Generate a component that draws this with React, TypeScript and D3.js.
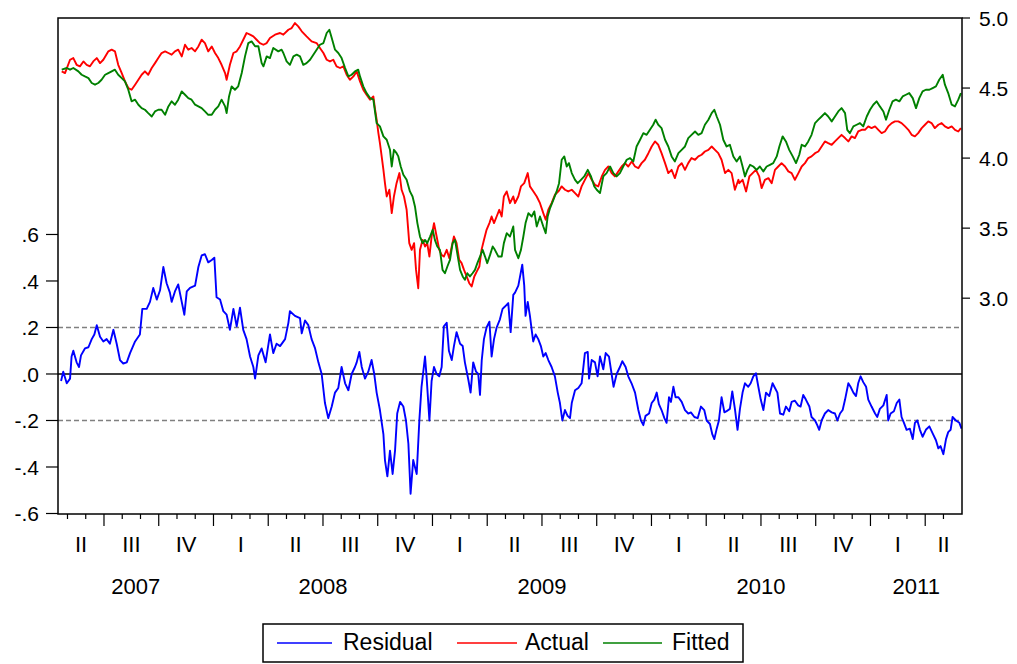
import React from "react";
import * as d3 from "d3";

// Sample span in decimal years (daily observations, mid-April 2007 to end of May 2011)
const sampleStart = 2007.29;
const sampleEnd = 2011.418;

// Residual series: [decimal year, value] (left axis)
const residual: [number, number][] = [
  [2007.304, -0.03], [2007.314, 0.01], [2007.330, -0.04], [2007.345, -0.02], [2007.352, 0.075],
  [2007.360, 0.10], [2007.375, 0.05], [2007.386, 0.03], [2007.395, 0.08], [2007.413, 0.11],
  [2007.429, 0.115], [2007.444, 0.15], [2007.456, 0.17], [2007.467, 0.21], [2007.482, 0.16],
  [2007.497, 0.14], [2007.512, 0.15], [2007.527, 0.13], [2007.543, 0.19], [2007.558, 0.13],
  [2007.573, 0.06], [2007.588, 0.045], [2007.604, 0.05], [2007.619, 0.09], [2007.642, 0.14],
  [2007.664, 0.17], [2007.675, 0.28], [2007.695, 0.28], [2007.710, 0.31], [2007.725, 0.37],
  [2007.741, 0.32], [2007.756, 0.36], [2007.771, 0.46], [2007.786, 0.39], [2007.801, 0.35],
  [2007.809, 0.31], [2007.824, 0.355], [2007.839, 0.385], [2007.855, 0.31], [2007.867, 0.255],
  [2007.878, 0.355], [2007.893, 0.37], [2007.916, 0.38], [2007.931, 0.46], [2007.946, 0.51],
  [2007.961, 0.515], [2007.976, 0.48], [2007.992, 0.49], [2008.004, 0.50], [2008.014, 0.33],
  [2008.030, 0.32], [2008.045, 0.27], [2008.060, 0.255], [2008.075, 0.19], [2008.091, 0.28],
  [2008.106, 0.205], [2008.121, 0.285], [2008.136, 0.19], [2008.151, 0.15], [2008.167, 0.075],
  [2008.182, 0.03], [2008.190, -0.02], [2008.205, 0.08], [2008.220, 0.11], [2008.238, 0.05],
  [2008.258, 0.17], [2008.273, 0.09], [2008.288, 0.13], [2008.304, 0.12], [2008.327, 0.15],
  [2008.342, 0.22], [2008.349, 0.27], [2008.372, 0.25], [2008.395, 0.24], [2008.403, 0.175],
  [2008.418, 0.23], [2008.433, 0.21], [2008.448, 0.15], [2008.464, 0.11], [2008.479, 0.05],
  [2008.494, 0.0], [2008.509, -0.125], [2008.524, -0.19], [2008.540, -0.14], [2008.555, -0.08],
  [2008.570, -0.06], [2008.585, 0.03], [2008.601, -0.04], [2008.616, -0.07], [2008.631, 0.0],
  [2008.646, 0.03], [2008.654, 0.05], [2008.666, 0.095], [2008.677, 0.03], [2008.692, -0.02],
  [2008.707, 0.01], [2008.722, 0.06], [2008.734, 0.0], [2008.745, -0.08], [2008.760, -0.155],
  [2008.776, -0.26], [2008.783, -0.37], [2008.794, -0.44], [2008.806, -0.33], [2008.818, -0.43],
  [2008.829, -0.33], [2008.839, -0.17], [2008.852, -0.12], [2008.867, -0.14], [2008.879, -0.20],
  [2008.890, -0.30], [2008.900, -0.515], [2008.912, -0.37], [2008.928, -0.43], [2008.940, -0.20],
  [2008.950, -0.055], [2008.966, 0.075], [2008.973, -0.01], [2008.986, -0.20], [2008.996, -0.03],
  [2009.007, 0.03], [2009.019, 0.0], [2009.031, -0.01], [2009.042, 0.03], [2009.052, 0.205],
  [2009.065, 0.22], [2009.075, 0.10], [2009.088, 0.06], [2009.098, 0.12], [2009.110, 0.18],
  [2009.126, 0.13], [2009.138, 0.12], [2009.148, 0.05], [2009.164, -0.026], [2009.174, -0.08],
  [2009.186, 0.05], [2009.199, 0.01], [2009.209, 0.0], [2009.217, -0.09], [2009.225, 0.06],
  [2009.235, 0.15], [2009.247, 0.2], [2009.260, 0.225], [2009.270, 0.075], [2009.281, 0.15],
  [2009.293, 0.2], [2009.308, 0.235], [2009.320, 0.28], [2009.331, 0.29], [2009.346, 0.305],
  [2009.357, 0.18], [2009.369, 0.34], [2009.377, 0.35], [2009.392, 0.38], [2009.400, 0.42],
  [2009.410, 0.47], [2009.419, 0.38], [2009.425, 0.25], [2009.435, 0.31], [2009.445, 0.25],
  [2009.453, 0.19], [2009.460, 0.14], [2009.471, 0.17], [2009.483, 0.15], [2009.495, 0.12],
  [2009.506, 0.075], [2009.517, 0.09], [2009.529, 0.06], [2009.544, 0.03], [2009.559, -0.01],
  [2009.572, -0.08], [2009.582, -0.125], [2009.593, -0.2], [2009.605, -0.155], [2009.617, -0.18],
  [2009.628, -0.19], [2009.636, -0.125], [2009.651, -0.07], [2009.666, -0.06], [2009.681, -0.04],
  [2009.696, 0.09], [2009.709, 0.095], [2009.715, -0.02], [2009.727, 0.06], [2009.742, 0.05],
  [2009.754, -0.01], [2009.765, 0.075], [2009.780, 0.02], [2009.791, 0.09], [2009.806, 0.075],
  [2009.818, 0.0], [2009.827, -0.055], [2009.841, 0.0], [2009.856, 0.03], [2009.867, 0.055],
  [2009.882, 0.03], [2009.894, -0.01], [2009.909, -0.04], [2009.925, -0.08], [2009.940, -0.155],
  [2009.952, -0.2], [2009.963, -0.22], [2009.973, -0.18], [2009.989, -0.17], [2010.001, -0.125],
  [2010.013, -0.11], [2010.024, -0.08], [2010.034, -0.13], [2010.046, -0.155], [2010.059, -0.19],
  [2010.069, -0.21], [2010.080, -0.10], [2010.089, -0.12], [2010.100, -0.055], [2010.110, -0.10],
  [2010.123, -0.10], [2010.138, -0.12], [2010.153, -0.155], [2010.168, -0.17], [2010.180, -0.165],
  [2010.196, -0.185], [2010.211, -0.19], [2010.226, -0.14], [2010.241, -0.155], [2010.252, -0.2],
  [2010.267, -0.215], [2010.278, -0.26], [2010.287, -0.28], [2010.298, -0.235], [2010.308, -0.2],
  [2010.320, -0.1], [2010.333, -0.165], [2010.343, -0.16], [2010.358, -0.15], [2010.369, -0.075],
  [2010.381, -0.15], [2010.393, -0.24], [2010.404, -0.15], [2010.416, -0.08], [2010.427, -0.04],
  [2010.442, -0.055], [2010.453, -0.04], [2010.465, -0.01], [2010.477, 0.003], [2010.488, -0.055],
  [2010.499, -0.11], [2010.511, -0.155], [2010.523, -0.08], [2010.538, -0.095], [2010.553, -0.04],
  [2010.564, -0.06], [2010.575, -0.08], [2010.587, -0.17], [2010.602, -0.175], [2010.614, -0.14],
  [2010.629, -0.16], [2010.640, -0.12], [2010.655, -0.115], [2010.670, -0.135], [2010.681, -0.14],
  [2010.693, -0.09], [2010.705, -0.11], [2010.721, -0.14], [2010.731, -0.185], [2010.747, -0.2],
  [2010.757, -0.22], [2010.766, -0.24], [2010.777, -0.2], [2010.792, -0.17], [2010.807, -0.155],
  [2010.823, -0.165], [2010.838, -0.17], [2010.849, -0.2], [2010.861, -0.17], [2010.873, -0.155],
  [2010.884, -0.11], [2010.899, -0.04], [2010.909, -0.055], [2010.922, -0.08], [2010.934, -0.095],
  [2010.944, -0.04], [2010.955, -0.01], [2010.967, -0.035], [2010.980, -0.055], [2010.990, -0.11],
  [2011.005, -0.14], [2011.021, -0.17], [2011.031, -0.185], [2011.043, -0.15], [2011.059, -0.135],
  [2011.074, -0.09], [2011.081, -0.2], [2011.092, -0.17], [2011.107, -0.16], [2011.120, -0.125],
  [2011.132, -0.11], [2011.142, -0.185], [2011.153, -0.21], [2011.165, -0.24], [2011.180, -0.235],
  [2011.193, -0.28], [2011.203, -0.21], [2011.214, -0.2], [2011.226, -0.24], [2011.238, -0.27],
  [2011.253, -0.24], [2011.269, -0.225], [2011.284, -0.255], [2011.299, -0.285], [2011.310, -0.32],
  [2011.320, -0.31], [2011.333, -0.345], [2011.345, -0.28], [2011.355, -0.25], [2011.366, -0.24],
  [2011.375, -0.185], [2011.390, -0.2], [2011.406, -0.21], [2011.416, -0.235],
];

// Actual series: [decimal year, value] (right axis)
const actual: [number, number][] = [
  [2007.307, 4.619], [2007.322, 4.607], [2007.345, 4.702], [2007.360, 4.714], [2007.375, 4.666],
  [2007.390, 4.655], [2007.406, 4.690], [2007.421, 4.666], [2007.436, 4.655], [2007.451, 4.690],
  [2007.467, 4.714], [2007.482, 4.678], [2007.497, 4.702], [2007.520, 4.762], [2007.535, 4.774],
  [2007.550, 4.762], [2007.565, 4.666], [2007.581, 4.607], [2007.596, 4.547], [2007.611, 4.500],
  [2007.626, 4.488], [2007.642, 4.524], [2007.657, 4.559], [2007.672, 4.595], [2007.687, 4.619],
  [2007.702, 4.595], [2007.718, 4.643], [2007.733, 4.678], [2007.748, 4.714], [2007.763, 4.750],
  [2007.779, 4.762], [2007.794, 4.750], [2007.809, 4.738], [2007.824, 4.762], [2007.839, 4.774],
  [2007.855, 4.726], [2007.870, 4.809], [2007.885, 4.774], [2007.900, 4.786], [2007.916, 4.762],
  [2007.931, 4.797], [2007.946, 4.845], [2007.961, 4.821], [2007.976, 4.762], [2007.992, 4.797],
  [2008.007, 4.750], [2008.022, 4.714], [2008.037, 4.666], [2008.053, 4.607], [2008.060, 4.559],
  [2008.075, 4.666], [2008.091, 4.750], [2008.106, 4.762], [2008.121, 4.797], [2008.136, 4.845],
  [2008.151, 4.893], [2008.167, 4.881], [2008.182, 4.869], [2008.197, 4.845], [2008.212, 4.821],
  [2008.228, 4.809], [2008.243, 4.821], [2008.258, 4.857], [2008.281, 4.881], [2008.304, 4.893],
  [2008.319, 4.881], [2008.342, 4.916], [2008.357, 4.928], [2008.372, 4.964], [2008.387, 4.940],
  [2008.403, 4.905], [2008.425, 4.869], [2008.448, 4.833], [2008.471, 4.821], [2008.486, 4.786],
  [2008.502, 4.750], [2008.517, 4.702], [2008.532, 4.690], [2008.547, 4.702], [2008.562, 4.655],
  [2008.578, 4.643], [2008.593, 4.655], [2008.608, 4.595], [2008.623, 4.559], [2008.639, 4.583],
  [2008.654, 4.619], [2008.669, 4.547], [2008.684, 4.488], [2008.699, 4.452], [2008.715, 4.417],
  [2008.730, 4.440], [2008.737, 4.357], [2008.745, 4.274], [2008.753, 4.178], [2008.760, 4.107],
  [2008.768, 4.012], [2008.776, 3.916], [2008.783, 3.821], [2008.791, 3.726], [2008.803, 3.774],
  [2008.814, 3.607], [2008.824, 3.726], [2008.836, 3.821], [2008.849, 3.893], [2008.859, 3.774],
  [2008.870, 3.726], [2008.882, 3.631], [2008.894, 3.393], [2008.905, 3.345], [2008.916, 3.393],
  [2008.925, 3.202], [2008.935, 3.071], [2008.943, 3.345], [2008.955, 3.416], [2008.966, 3.369],
  [2008.976, 3.393], [2008.986, 3.297], [2008.996, 3.440], [2009.007, 3.536], [2009.019, 3.440],
  [2009.031, 3.345], [2009.042, 3.309], [2009.052, 3.297], [2009.065, 3.345], [2009.077, 3.285],
  [2009.088, 3.369], [2009.098, 3.440], [2009.110, 3.393], [2009.122, 3.274], [2009.133, 3.250],
  [2009.144, 3.202], [2009.156, 3.155], [2009.168, 3.107], [2009.179, 3.083], [2009.191, 3.155],
  [2009.202, 3.190], [2009.214, 3.226], [2009.224, 3.345], [2009.235, 3.416], [2009.247, 3.488],
  [2009.260, 3.536], [2009.270, 3.583], [2009.281, 3.536], [2009.293, 3.583], [2009.305, 3.631],
  [2009.316, 3.583], [2009.326, 3.726], [2009.339, 3.762], [2009.354, 3.678], [2009.369, 3.726],
  [2009.377, 3.678], [2009.392, 3.726], [2009.404, 3.798], [2009.419, 3.821], [2009.435, 3.893],
  [2009.445, 3.798], [2009.461, 3.762], [2009.476, 3.726], [2009.491, 3.678], [2009.506, 3.607],
  [2009.517, 3.560], [2009.529, 3.631], [2009.544, 3.678], [2009.559, 3.738], [2009.575, 3.762],
  [2009.590, 3.798], [2009.605, 3.774], [2009.620, 3.762], [2009.636, 3.774], [2009.651, 3.750],
  [2009.666, 3.726], [2009.681, 3.798], [2009.696, 3.845], [2009.712, 3.893], [2009.727, 3.845],
  [2009.742, 3.809], [2009.757, 3.798], [2009.773, 3.869], [2009.788, 3.916], [2009.803, 3.940],
  [2009.818, 3.893], [2009.833, 3.869], [2009.849, 3.905], [2009.864, 3.940], [2009.879, 3.964],
  [2009.894, 3.940], [2009.910, 3.976], [2009.925, 3.940], [2009.940, 3.928], [2009.955, 3.964],
  [2009.970, 3.988], [2009.986, 4.035], [2010.001, 4.083], [2010.016, 4.119], [2010.031, 4.095],
  [2010.046, 4.035], [2010.062, 3.964], [2010.077, 3.893], [2010.092, 3.916], [2010.107, 3.857],
  [2010.123, 3.940], [2010.138, 3.964], [2010.153, 3.916], [2010.168, 3.964], [2010.183, 4.000],
  [2010.199, 3.988], [2010.214, 4.012], [2010.229, 4.024], [2010.244, 4.047], [2010.260, 4.059],
  [2010.275, 4.083], [2010.290, 4.059], [2010.305, 4.035], [2010.320, 3.988], [2010.336, 3.893],
  [2010.351, 3.916], [2010.366, 3.893], [2010.381, 3.774], [2010.397, 3.845], [2010.401, 3.821],
  [2010.416, 3.845], [2010.432, 3.762], [2010.447, 3.869], [2010.462, 3.893], [2010.477, 3.916],
  [2010.492, 3.869], [2010.503, 3.786], [2010.518, 3.845], [2010.534, 3.857], [2010.549, 3.821],
  [2010.564, 3.916], [2010.579, 3.940], [2010.594, 3.964], [2010.610, 3.940], [2010.625, 3.905],
  [2010.640, 3.893], [2010.655, 3.845], [2010.671, 3.893], [2010.686, 3.940], [2010.701, 3.964],
  [2010.716, 4.000], [2010.731, 4.012], [2010.747, 4.035], [2010.762, 4.047], [2010.777, 4.083],
  [2010.792, 4.119], [2010.807, 4.107], [2010.823, 4.095], [2010.838, 4.119], [2010.853, 4.143],
  [2010.868, 4.166], [2010.884, 4.143], [2010.899, 4.119], [2010.914, 4.155], [2010.929, 4.143],
  [2010.944, 4.190], [2010.960, 4.202], [2010.975, 4.202], [2010.990, 4.226], [2011.005, 4.214],
  [2011.021, 4.226], [2011.036, 4.202], [2011.051, 4.178], [2011.066, 4.190], [2011.081, 4.226],
  [2011.097, 4.250], [2011.112, 4.262], [2011.127, 4.262], [2011.142, 4.250], [2011.158, 4.226],
  [2011.173, 4.202], [2011.188, 4.166], [2011.203, 4.155], [2011.218, 4.178], [2011.234, 4.214],
  [2011.249, 4.238], [2011.264, 4.262], [2011.279, 4.250], [2011.294, 4.214], [2011.310, 4.238],
  [2011.325, 4.250], [2011.340, 4.226], [2011.355, 4.214], [2011.371, 4.226], [2011.386, 4.202],
  [2011.401, 4.190], [2011.413, 4.214],
];

// Fitted series: [decimal year, value] (right axis)
const fitted: [number, number][] = [
  [2007.307, 4.631], [2007.330, 4.643], [2007.345, 4.631], [2007.360, 4.643], [2007.383, 4.619],
  [2007.398, 4.595], [2007.413, 4.583], [2007.429, 4.571], [2007.444, 4.536], [2007.459, 4.524],
  [2007.474, 4.536], [2007.489, 4.559], [2007.505, 4.595], [2007.520, 4.607], [2007.535, 4.619],
  [2007.550, 4.631], [2007.565, 4.595], [2007.581, 4.571], [2007.596, 4.547], [2007.611, 4.488],
  [2007.626, 4.405], [2007.642, 4.417], [2007.657, 4.381], [2007.672, 4.357], [2007.687, 4.345],
  [2007.702, 4.321], [2007.718, 4.297], [2007.733, 4.333], [2007.748, 4.345], [2007.763, 4.345],
  [2007.779, 4.309], [2007.794, 4.369], [2007.809, 4.405], [2007.824, 4.381], [2007.839, 4.417],
  [2007.855, 4.476], [2007.870, 4.452], [2007.885, 4.428], [2007.900, 4.417], [2007.916, 4.381],
  [2007.931, 4.369], [2007.946, 4.357], [2007.961, 4.333], [2007.976, 4.309], [2007.992, 4.309],
  [2008.007, 4.345], [2008.022, 4.369], [2008.037, 4.417], [2008.053, 4.369], [2008.060, 4.321],
  [2008.071, 4.440], [2008.083, 4.512], [2008.098, 4.488], [2008.113, 4.512], [2008.129, 4.607],
  [2008.144, 4.726], [2008.159, 4.821], [2008.174, 4.833], [2008.190, 4.798], [2008.205, 4.798],
  [2008.220, 4.678], [2008.228, 4.655], [2008.243, 4.726], [2008.258, 4.714], [2008.273, 4.786],
  [2008.296, 4.762], [2008.311, 4.774], [2008.319, 4.750], [2008.334, 4.690], [2008.349, 4.666],
  [2008.365, 4.726], [2008.380, 4.738], [2008.395, 4.726], [2008.410, 4.666], [2008.425, 4.678],
  [2008.441, 4.702], [2008.456, 4.738], [2008.471, 4.774], [2008.486, 4.809], [2008.502, 4.821],
  [2008.517, 4.893], [2008.529, 4.916], [2008.540, 4.857], [2008.555, 4.774], [2008.570, 4.750],
  [2008.585, 4.714], [2008.601, 4.643], [2008.616, 4.583], [2008.631, 4.595], [2008.646, 4.619],
  [2008.661, 4.631], [2008.669, 4.583], [2008.684, 4.512], [2008.699, 4.464], [2008.715, 4.428],
  [2008.730, 4.417], [2008.745, 4.250], [2008.760, 4.226], [2008.776, 4.155], [2008.791, 4.131],
  [2008.806, 4.059], [2008.814, 3.940], [2008.824, 4.059], [2008.836, 4.035], [2008.844, 4.012],
  [2008.855, 3.940], [2008.867, 3.881], [2008.882, 3.845], [2008.897, 3.762], [2008.909, 3.726],
  [2008.920, 3.655], [2008.931, 3.536], [2008.943, 3.440], [2008.955, 3.393], [2008.966, 3.416],
  [2008.976, 3.393], [2008.989, 3.440], [2009.001, 3.488], [2009.011, 3.416], [2009.022, 3.369],
  [2009.034, 3.345], [2009.046, 3.202], [2009.057, 3.178], [2009.068, 3.226], [2009.080, 3.274],
  [2009.092, 3.393], [2009.103, 3.416], [2009.113, 3.321], [2009.126, 3.202], [2009.138, 3.155],
  [2009.148, 3.131], [2009.159, 3.178], [2009.171, 3.155], [2009.183, 3.178], [2009.194, 3.202],
  [2009.205, 3.250], [2009.217, 3.297], [2009.229, 3.345], [2009.240, 3.297], [2009.250, 3.250],
  [2009.263, 3.309], [2009.275, 3.369], [2009.285, 3.345], [2009.301, 3.297], [2009.316, 3.297],
  [2009.326, 3.393], [2009.339, 3.464], [2009.354, 3.440], [2009.369, 3.512], [2009.377, 3.345],
  [2009.392, 3.285], [2009.404, 3.345], [2009.415, 3.440], [2009.425, 3.536], [2009.438, 3.607],
  [2009.453, 3.583], [2009.465, 3.619], [2009.476, 3.512], [2009.491, 3.583], [2009.506, 3.512],
  [2009.517, 3.464], [2009.526, 3.583], [2009.537, 3.643], [2009.552, 3.702], [2009.567, 3.762],
  [2009.578, 3.821], [2009.590, 3.988], [2009.602, 4.012], [2009.613, 3.940], [2009.623, 3.964],
  [2009.636, 3.893], [2009.651, 3.845], [2009.663, 3.821], [2009.678, 3.845], [2009.693, 3.869],
  [2009.709, 3.916], [2009.724, 3.869], [2009.739, 3.798], [2009.750, 3.774], [2009.765, 3.750],
  [2009.780, 3.869], [2009.795, 3.893], [2009.811, 3.940], [2009.826, 3.893], [2009.841, 3.869],
  [2009.856, 3.893], [2009.871, 3.940], [2009.887, 3.988], [2009.902, 4.000], [2009.917, 3.976],
  [2009.932, 4.083], [2009.948, 4.131], [2009.963, 4.178], [2009.978, 4.166], [2009.993, 4.202],
  [2010.008, 4.238], [2010.019, 4.274], [2010.031, 4.238], [2010.046, 4.214], [2010.062, 4.131],
  [2010.077, 4.083], [2010.092, 4.012], [2010.107, 3.976], [2010.123, 4.035], [2010.138, 4.059],
  [2010.153, 4.083], [2010.168, 4.143], [2010.183, 4.166], [2010.199, 4.190], [2010.214, 4.166],
  [2010.229, 4.178], [2010.244, 4.238], [2010.260, 4.274], [2010.275, 4.321], [2010.287, 4.345],
  [2010.298, 4.297], [2010.313, 4.238], [2010.328, 4.131], [2010.343, 4.083], [2010.358, 4.095],
  [2010.374, 4.012], [2010.389, 3.976], [2010.404, 4.012], [2010.416, 3.940], [2010.427, 3.869],
  [2010.438, 3.916], [2010.450, 3.952], [2010.465, 3.940], [2010.480, 3.916], [2010.495, 3.940],
  [2010.511, 3.905], [2010.526, 3.940], [2010.541, 3.952], [2010.556, 3.964], [2010.572, 4.012],
  [2010.584, 4.083], [2010.599, 4.155], [2010.614, 4.119], [2010.629, 4.059], [2010.645, 4.012],
  [2010.660, 3.964], [2010.675, 4.024], [2010.686, 4.095], [2010.701, 4.083], [2010.716, 4.119],
  [2010.731, 4.166], [2010.747, 4.250], [2010.762, 4.274], [2010.777, 4.297], [2010.792, 4.321],
  [2010.807, 4.297], [2010.823, 4.262], [2010.838, 4.297], [2010.853, 4.333], [2010.868, 4.357],
  [2010.884, 4.321], [2010.894, 4.202], [2010.906, 4.178], [2010.922, 4.226], [2010.937, 4.238],
  [2010.952, 4.250], [2010.967, 4.226], [2010.983, 4.297], [2010.998, 4.345], [2011.013, 4.381],
  [2011.028, 4.405], [2011.043, 4.369], [2011.059, 4.333], [2011.071, 4.274], [2011.086, 4.345],
  [2011.101, 4.405], [2011.116, 4.417], [2011.132, 4.405], [2011.147, 4.440], [2011.162, 4.452],
  [2011.177, 4.464], [2011.193, 4.428], [2011.208, 4.357], [2011.223, 4.428], [2011.238, 4.476],
  [2011.253, 4.488], [2011.269, 4.488], [2011.284, 4.500], [2011.299, 4.512], [2011.314, 4.559],
  [2011.330, 4.595], [2011.340, 4.524], [2011.355, 4.464], [2011.371, 4.381], [2011.386, 4.369],
  [2011.401, 4.417], [2011.413, 4.464],
];

// Axis definitions
const leftTicks = [0.6, 0.4, 0.2, 0, -0.2, -0.4, -0.6];
const leftTickLabels = [".6", ".4", ".2", ".0", "-.2", "-.4", "-.6"];
const rightTicks = [5.0, 4.5, 4.0, 3.5, 3.0];
const rightTickLabels = ["5.0", "4.5", "4.0", "3.5", "3.0"];
const years = [2007, 2008, 2009, 2010, 2011];
const quarterNames = ["I", "II", "III", "IV"];
const bandLevels = [0.2, -0.2];

const seriesNames = ["Residual", "Actual", "Fitted"];
const seriesColors = ["#0000ff", "#ff0000", "#008000"];

const FONT = '"Liberation Sans", Arial, Helvetica, sans-serif';

export default function App() {
  const W = 1017;
  const H = 664;
  const left = 58;
  const right = 962;
  const top = 18;
  const bottom = 514;
  const yBase = 513.5;

  const x = d3.scaleLinear().domain([sampleStart, sampleEnd]).range([left, right]);
  const yL = d3.scaleLinear().domain([-0.6, 1.531]).range([yBase, top]);
  const yR = d3.scaleLinear().domain([1.463, 5.0]).range([yBase, top]);

  const lineL = d3
    .line<[number, number]>()
    .x((d) => x(d[0]))
    .y((d) => yL(d[1]));
  const lineR = d3
    .line<[number, number]>()
    .x((d) => x(d[0]))
    .y((d) => yR(d[1]));

  // month ticks along the bottom; quarter starts get longer marks
  const monthTicks: { t: number; major: boolean }[] = [];
  years.forEach((yr) => {
    for (let mo = 0; mo < 12; mo++) {
      const t = yr + mo / 12;
      if (t > sampleStart + 0.002 && t < sampleEnd - 0.002) {
        monthTicks.push({ t, major: mo % 3 === 0 });
      }
    }
  });

  // quarter labels centred on the visible part of each quarter
  const quarterLabels: { cx: number; label: string }[] = [];
  years.forEach((yr) => {
    quarterNames.forEach((name, qi) => {
      const a = Math.max(yr + qi / 4, sampleStart);
      const b = Math.min(yr + (qi + 1) / 4, sampleEnd);
      if (b - a > 0.1) {
        quarterLabels.push({ cx: (x(a) + x(b)) / 2, label: name });
      }
    });
  });

  const yearLabels = years.map((yr) => {
    const a = Math.max(yr, sampleStart);
    const b = Math.min(yr + 1, sampleEnd);
    return { cx: (x(a) + x(b)) / 2, label: String(yr) };
  });

  const legendItems = [
    { name: seriesNames[0], color: seriesColors[0], x1: 277, x2: 332, tx: 343 },
    { name: seriesNames[1], color: seriesColors[1], x1: 457, x2: 517, tx: 525 },
    { name: seriesNames[2], color: seriesColors[2], x1: 603, x2: 662, tx: 672 },
  ];

  return (
    <svg
      width={W}
      height={H}
      viewBox={`0 0 ${W} ${H}`}
      style={{ position: "absolute", left: 0, top: 0, background: "#fff" }}
    >
      <defs>
        <clipPath id="plot-clip">
          <rect x={left} y={top} width={right - left} height={bottom - top} />
        </clipPath>
      </defs>
      <rect x={0} y={0} width={W} height={H} fill="#fff" />

      {/* reference lines for the residual */}
      {bandLevels.map((v) => (
        <line
          key={v}
          x1={left}
          x2={right}
          y1={yL(v)}
          y2={yL(v)}
          stroke="#808080"
          strokeWidth={1.5}
          strokeDasharray="5,3"
        />
      ))}
      <line x1={left} x2={right} y1={yL(0)} y2={yL(0)} stroke="#000" strokeWidth={1.5} />

      <g clipPath="url(#plot-clip)" fill="none" strokeWidth={1.9} strokeLinejoin="round">
        <path d={lineL(residual) ?? ""} stroke={seriesColors[0]} />
        <path d={lineR(actual) ?? ""} stroke={seriesColors[1]} />
        <path d={lineR(fitted) ?? ""} stroke={seriesColors[2]} />
      </g>

      {/* frame */}
      <rect
        x={left}
        y={top}
        width={right - left}
        height={bottom - top}
        fill="none"
        stroke="#000"
        strokeWidth={1.5}
      />

      {/* left axis */}
      {leftTicks.map((v, i) => (
        <g key={`l${i}`}>
          <line x1={left - 12} x2={left} y1={yL(v)} y2={yL(v)} stroke="#000" strokeWidth={1.2} />
          <text
            x={39}
            y={yL(v)}
            dy="0.36em"
            textAnchor="end"
            fontFamily={FONT}
            fontSize={21}
            fill="#000"
          >
            {leftTickLabels[i]}
          </text>
        </g>
      ))}

      {/* right axis */}
      {rightTicks.map((v, i) => (
        <g key={`r${i}`}>
          <line x1={right} x2={right + 8} y1={yR(v)} y2={yR(v)} stroke="#000" strokeWidth={1.2} />
          <text
            x={979}
            y={yR(v)}
            dy="0.36em"
            textAnchor="start"
            fontFamily={FONT}
            fontSize={21}
            fill="#000"
          >
            {rightTickLabels[i]}
          </text>
        </g>
      ))}

      {/* bottom axis */}
      {monthTicks.map((m, i) => (
        <line
          key={`m${i}`}
          x1={x(m.t)}
          x2={x(m.t)}
          y1={bottom}
          y2={bottom + (m.major ? 12 : 5)}
          stroke="#000"
          strokeWidth={1.2}
        />
      ))}
      {quarterLabels.map((q, i) => (
        <text
          key={`q${i}`}
          x={q.cx}
          y={552}
          textAnchor="middle"
          fontFamily={FONT}
          fontSize={22}
          fill="#000"
        >
          {q.label}
        </text>
      ))}
      {yearLabels.map((yl, i) => (
        <text
          key={`y${i}`}
          x={yl.cx}
          y={594}
          textAnchor="middle"
          fontFamily={FONT}
          fontSize={22}
          fill="#000"
        >
          {yl.label}
        </text>
      ))}

      {/* legend */}
      <rect x={263} y={624} width={480} height={38} fill="#fff" stroke="#000" strokeWidth={1.5} />
      {legendItems.map((it) => (
        <g key={it.name}>
          <line x1={it.x1} x2={it.x2} y1={643} y2={643} stroke={it.color} strokeWidth={1.5} />
          <text x={it.tx} y={650} fontFamily={FONT} fontSize={23} fill="#000">
            {it.name}
          </text>
        </g>
      ))}
    </svg>
  );
}
